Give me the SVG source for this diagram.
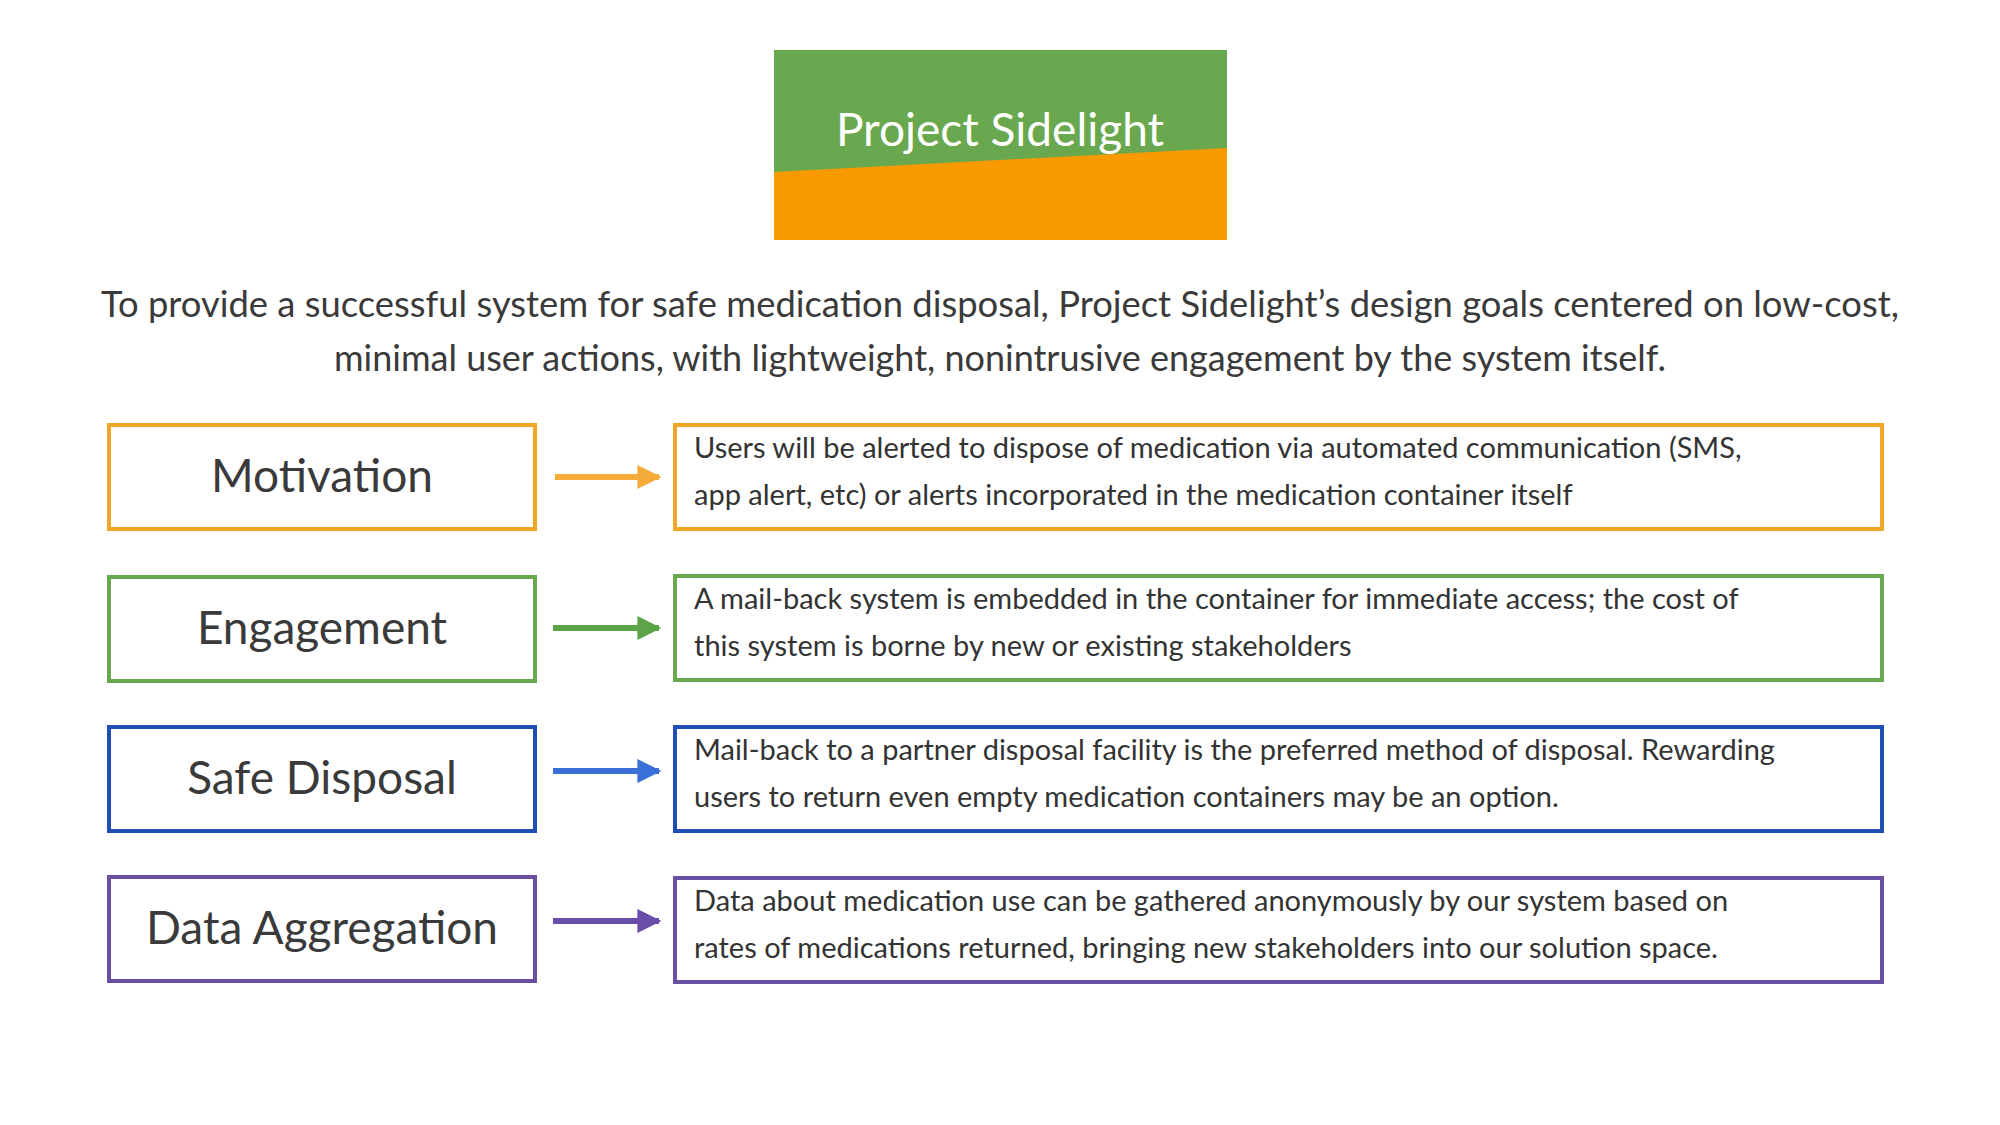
<svg xmlns="http://www.w3.org/2000/svg" width="2000" height="1125" viewBox="0 0 2000 1125">
<style>
.lab{font-family:Lato,"Open Sans",sans-serif;font-size:46px;fill:#3a3a3a;text-anchor:middle}
.desc{font-family:Lato,"Open Sans",sans-serif;font-size:29px;fill:#333}
.para{font-family:Lato,"Open Sans",sans-serif;font-size:36px;fill:#3a3a3a;text-anchor:middle}
rect.b{fill:#fff;stroke-width:4}
</style>
<defs>
<marker id="ah" viewBox="0 0 10 10" refX="9" refY="5" markerWidth="4" markerHeight="4" orient="auto" markerUnits="strokeWidth"><path d="M0,0L10,5L0,10z" fill="context-stroke"/></marker>
</defs>
<rect width="2000" height="1125" fill="#fff"/>
<g id="title">
<rect x="774" y="50" width="453" height="190" fill="#6aa84f"/>
<polygon points="774,172 1227,148 1227,240 774,240" fill="#f99a00"/>
<text x="1000" y="146" font-family="Lato,'Open Sans',sans-serif" font-size="46" fill="#fff" text-anchor="middle">Project Sidelight</text>
</g>
<g id="intro">
<text class="para" x="1000" y="317" textLength="1798" lengthAdjust="spacingAndGlyphs">To provide a successful system for safe medication disposal, Project Sidelight’s design goals centered on low-cost,</text>
<text class="para" x="1000" y="371" textLength="1332" lengthAdjust="spacingAndGlyphs">minimal user actions, with lightweight, nonintrusive engagement by the system itself.</text>
</g>
<g id="motivation">
<rect class="b" x="109" y="425" width="426" height="104" stroke="#f2a526"/>
<text class="lab" x="322" y="492">Motivation</text>
</g>
<g id="motivation-desc">
<rect class="b" x="675" y="425" width="1207" height="104" stroke="#f2a526"/>
<text class="desc" x="694" y="458">Users will be alerted to dispose of medication via automated communication (SMS,</text>
<text class="desc" x="694" y="505">app alert, etc) or alerts incorporated in the medication container itself</text>
</g>
<g id="engagement">
<rect class="b" x="109" y="577" width="426" height="104" stroke="#6aa84f"/>
<text class="lab" x="322" y="644">Engagement</text>
</g>
<g id="engagement-desc">
<rect class="b" x="675" y="576" width="1207" height="104" stroke="#6aa84f"/>
<text class="desc" x="694" y="609">A mail-back system is embedded in the container for immediate access; the cost of</text>
<text class="desc" x="694" y="656">this system is borne by new or existing stakeholders</text>
</g>
<g id="safe-disposal">
<rect class="b" x="109" y="727" width="426" height="104" stroke="#1f4fb5"/>
<text class="lab" x="322" y="794">Safe Disposal</text>
</g>
<g id="safe-disposal-desc">
<rect class="b" x="675" y="727" width="1207" height="104" stroke="#1f4fb5"/>
<text class="desc" x="694" y="760">Mail-back to a partner disposal facility is the preferred method of disposal. Rewarding</text>
<text class="desc" x="694" y="807">users to return even empty medication containers may be an option.</text>
</g>
<g id="data-aggregation">
<rect class="b" x="109" y="877" width="426" height="104" stroke="#6b4fa0"/>
<text class="lab" x="322" y="944">Data Aggregation</text>
</g>
<g id="data-aggregation-desc">
<rect class="b" x="675" y="878" width="1207" height="104" stroke="#6b4fa0"/>
<text class="desc" x="694" y="911">Data about medication use can be gathered anonymously by our system based on</text>
<text class="desc" x="694" y="958">rates of medications returned, bringing new stakeholders into our solution space.</text>
</g>
<g id="connectors" stroke-width="6" fill="none">
<line x1="555" y1="477" x2="659" y2="477" stroke="#f5ab3a" marker-end="url(#ah)"/>
<line x1="553" y1="628" x2="659" y2="628" stroke="#5ba548" marker-end="url(#ah)"/>
<line x1="553" y1="771" x2="659" y2="771" stroke="#3a6fd8" marker-end="url(#ah)"/>
<line x1="553" y1="921" x2="659" y2="921" stroke="#6a4da8" marker-end="url(#ah)"/>
</g>
</svg>
